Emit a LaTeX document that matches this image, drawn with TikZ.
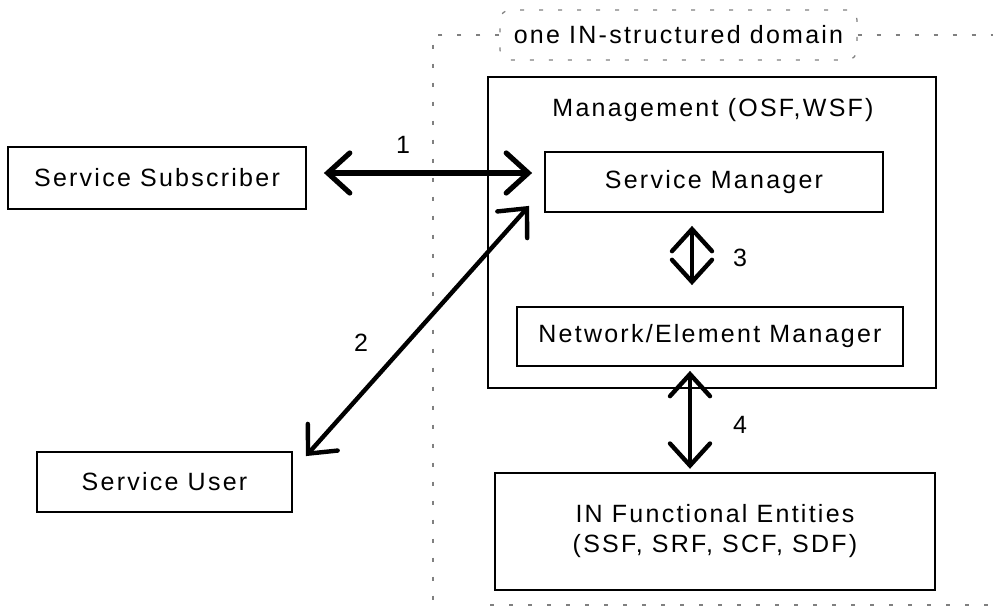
\documentclass[tikz,border=0pt]{standalone}
\usepackage{fontspec}
\setmainfont[LetterSpace=9]{Liberation Sans}
\usetikzlibrary{arrows.meta, positioning}

\begin{document}
\begin{tikzpicture}[x=0.5pt, y=-0.5pt, font=\fontsize{12.5}{15}\selectfont]
            \tikzset{
                box/.style={draw, shape = rectangle, line width=0.9pt, inner sep=0pt, align=center},
                frame/.style={draw, shape = rectangle, line width=1.2pt, inner sep=0pt},
                biarrow/.style={line width=2.2pt, {Straight Barb[length=11pt,width=20pt,line cap=round]}-{Straight Barb[length=11pt,width=20pt,line cap=round]}},
                boundary/.style={draw=gray, line width=0.6pt, dash pattern=on 2pt off 7.5pt}
            }
            \useasboundingbox (0,0) rectangle (993,610);
            \node[box, minimum width=149pt, minimum height=31pt] (subscriber) at (157,178) {Service Subscriber};
            \node[box, minimum width=127.5pt, minimum height=30pt] (user) at (164.5,482) {Service User};
            \node[frame, minimum width=224pt, minimum height=155.5pt] (mgmt) at (712,232.5) {};
            \node (mgmt_title) at (713,110) {Management (OSF,WSF)};
            \node[box, minimum width=169pt, minimum height=30pt] (svcmgr) at (714,182) {Service Manager};
            \node[box, minimum width=193pt, minimum height=29.5pt] (nemgr) at (710,336.5) {Network/Element Manager};
            \node[frame, align=center, minimum width=220pt, minimum height=58.5pt] (fe) at (715,531.5) {IN Functional Entities\\(SSF, SRF, SCF, SDF)};
            \node[boundary, rounded corners=5pt, minimum width=178.5pt, minimum height=25pt] (domain) at (678.5,35) {one IN-structured domain};
            \draw[boundary] (domain.west) -- (433,35) -- (433,605);
            \draw[boundary] (domain.east) -- (993,35);
            \draw[boundary] (490,605) -- (993,605);
            \draw[biarrow, line width=2.6pt, shorten <=8.5pt, shorten >=6pt] ([yshift=2.5pt]subscriber.east) -- ([yshift=2.5pt]subscriber.east -| svcmgr.west);
            \draw[biarrow] ([xshift=6.5pt,yshift=-2.5pt]user.north east) -- ([xshift=-7.5pt,yshift=3.5pt]svcmgr.south west);
            \draw[biarrow, shorten <=6.5pt, shorten >=10.5pt] ([xshift=-11pt]svcmgr.south) -- ([xshift=-11pt]svcmgr.south |- nemgr.north);
            \draw[biarrow, shorten <=2pt, shorten >=1.5pt] ([xshift=-10pt]nemgr.south) -- ([xshift=-10pt]nemgr.south |- fe.north);
            \node (n1) at (403,145) {1};
            \node (n2) at (361,343) {2};
            \node (n3) at (740,258) {3};
            \node (n4) at (740,425) {4};
        \end{tikzpicture}
\end{document}
